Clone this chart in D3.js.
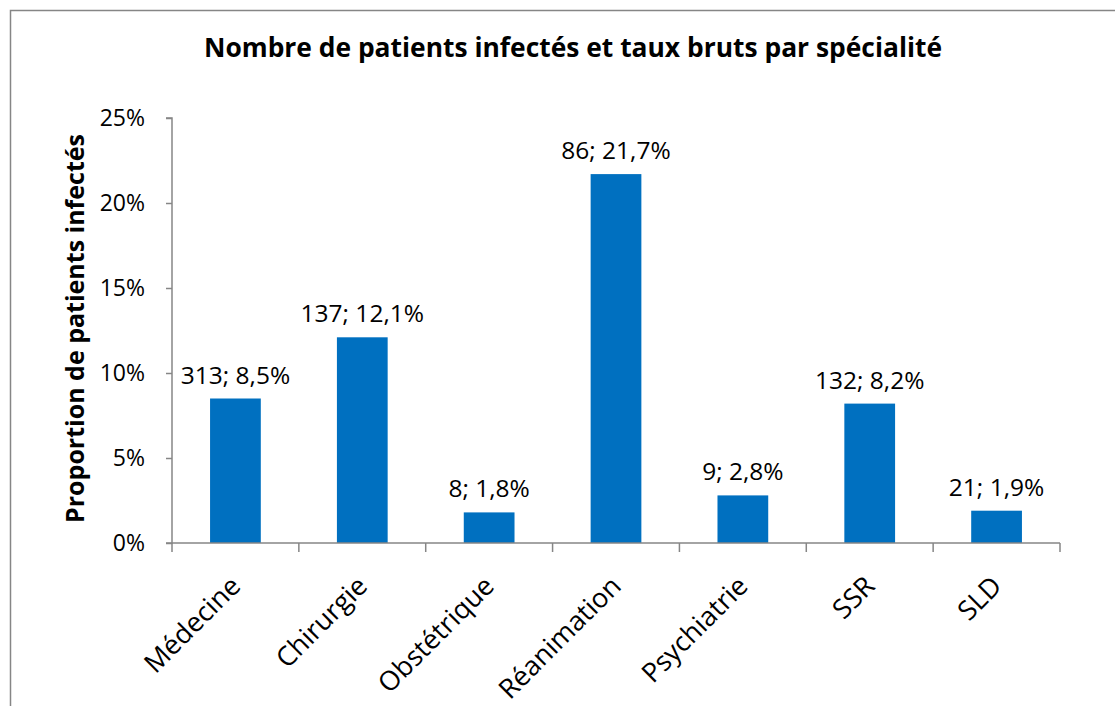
<!DOCTYPE html>
<html><head><meta charset="utf-8">
<script src="https://cdn.jsdelivr.net/npm/d3@7"></script>
<style>body{margin:0;background:#fff;} text{font-family:"Open Sans","Noto Sans",sans-serif;fill:#000;}</style>
</head><body>
<svg id="c" width="1115" height="706"></svg>
<script>
const categories = ["Médecine","Chirurgie","Obstétrique","Réanimation","Psychiatrie","SSR","SLD"];
const rates = [8.5, 12.1, 1.8, 21.7, 2.8, 8.2, 1.9];
const counts = [313, 137, 8, 86, 9, 132, 21];
const yTicks = [0, 5, 10, 15, 20, 25];
const title = "Nombre de patients infectés et taux bruts par spécialité";
const yTitle = "Proportion de patients infectés";

const svg = d3.select("#c");
const m = {left:172, right:1060, top:118, bottom:543};
svg.append("rect").attr("x",10.5).attr("y",10.5).attr("width",1200).attr("height",800)
  .attr("fill","#fff").attr("stroke","#868686").attr("stroke-width",1.5);

const x = d3.scaleBand().domain(categories).range([m.left,m.right]).paddingInner(0.6).paddingOuter(0.3);
const y = d3.scaleLinear().domain([0,25]).range([m.bottom,m.top]);

// bars
svg.selectAll("rect.bar").data(categories).enter().append("rect").attr("class","bar")
  .attr("x",d=>x(d)).attr("width",x.bandwidth())
  .attr("y",(d,i)=>y(rates[i])).attr("height",(d,i)=>y(0)-y(rates[i]))
  .attr("fill","#0070C0");

// value labels
svg.selectAll("text.val").data(categories).enter().append("text").attr("class","val")
  .attr("x",d=>x(d)+x.bandwidth()/2).attr("y",(d,i)=>y(rates[i])-15)
  .attr("text-anchor","middle").style("font-size","24.5px")
  .text((d,i)=>counts[i]+"; "+String(rates[i].toFixed(1)).replace(".",",")+"%");

// y axis
const ya = svg.append("g").attr("transform",`translate(${m.left},0)`)
  .call(d3.axisLeft(y).tickValues(yTicks).tickSize(6).tickFormat(d=>d+"%"));
ya.selectAll("line,path").attr("stroke","#868686").attr("stroke-width",1.5);
ya.select(".domain").attr("d",`M-6,${m.top}H0V${m.bottom}H-6`);
ya.selectAll("text").style("font-size","23px").attr("x",-27).attr("fill","#000");

// x axis
const xa = svg.append("g").attr("transform",`translate(0,${m.bottom})`)
  .call(d3.axisBottom(x).tickSize(0).tickFormat(""));
xa.select(".domain").attr("d",`M${m.left},0H${m.right}`).attr("stroke","#868686").attr("stroke-width",1.5);
const bounds = d3.range(categories.length+1).map(i=>m.left + i*(m.right-m.left)/categories.length);
svg.selectAll("line.xt").data(bounds).enter().append("line").attr("class","xt")
  .attr("x1",d=>d).attr("x2",d=>d).attr("y1",m.bottom).attr("y2",m.bottom+9)
  .attr("stroke","#868686").attr("stroke-width",1.5);
svg.selectAll("text.xl").data(categories).enter().append("text").attr("class","xl")
  .attr("transform",d=>`translate(${x(d)+x.bandwidth()/2},${m.bottom+38}) rotate(-45)`)
  .attr("text-anchor","end").attr("dy","0.35em").style("font-size","27px").text(d=>d);

// titles
svg.append("text").attr("x",573).attr("y",57).attr("text-anchor","middle")
  .style("font-size","26.4px").style("font-weight","bold").text(title);
svg.append("text").attr("transform",`translate(84,${(m.top+m.bottom)/2-2}) rotate(-90)`)
  .attr("text-anchor","middle").style("font-size","25px").style("font-weight","bold").text(yTitle);
</script>
</body></html>
